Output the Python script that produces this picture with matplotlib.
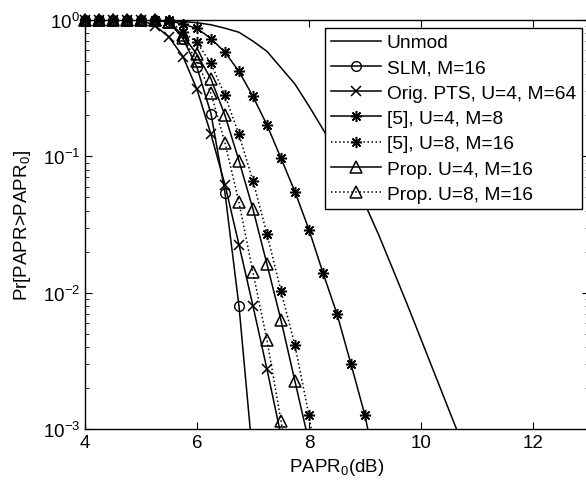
import matplotlib
matplotlib.use("Agg")
import matplotlib.pyplot as plt
from matplotlib.lines import Line2D

plt.rcParams['font.family'] = ['Liberation Sans', 'DejaVu Sans']
plt.rcParams['mathtext.default'] = 'regular'

# PAPR0 grid (dB), markers every 0.25 dB
papr = [4.0, 4.25, 4.5, 4.75, 5.0, 5.25, 5.5, 5.75, 6.0, 6.25, 6.5, 6.75,
        7.0, 7.25, 7.5, 7.75, 8.0, 8.25, 8.5, 8.75, 9.0, 9.25, 9.5, 9.75,
        10.0, 10.25, 10.5, 10.75]

unmod = [1, 1, 1, 1, 1, 0.998, 0.993, 0.975, 0.955, 0.923, 0.871, 0.813,
         0.70, 0.589, 0.447, 0.339, 0.234, 0.158, 0.105, 0.069, 0.0447,
         0.0263, 0.0148, 0.0083, 0.00457, 0.00251, 0.00138, 0.00076]

slm = [1, 1, 1, 1, 1, 1, 0.97, 0.73, 0.45, 0.206, 0.054, 0.008, 0.0006]

pts = [1, 1, 1, 1, 1, 0.91, 0.75, 0.54, 0.31, 0.145, 0.062, 0.0225, 0.008,
       0.00275, 0.0009]

ref5_u4 = [1, 1, 1, 1, 1, 1, 0.995, 0.93, 0.87, 0.73, 0.58, 0.42, 0.275,
           0.17, 0.097, 0.055, 0.029, 0.014, 0.007, 0.003, 0.00126, 0.0004]

ref5_u8 = [1, 1, 1, 1, 1, 1, 0.99, 0.82, 0.685, 0.48, 0.28, 0.145, 0.066,
           0.027, 0.0103, 0.0041, 0.00126, 0.0003]

prop_u4 = [1, 1, 1, 1, 1, 1, 0.97, 0.77, 0.56, 0.37, 0.20, 0.093, 0.041,
           0.0162, 0.0063, 0.00224, 0.0008]

prop_u8 = [1, 1, 1, 1, 1, 1, 0.96, 0.74, 0.50, 0.29, 0.126, 0.046, 0.0141,
           0.0045, 0.00115, 0.0003]

labels = ['Unmod', 'SLM, M=16', 'Orig. PTS, U=4, M=64', '[5], U=4, M=8',
          '[5], U=8, M=16', 'Prop. U=4, M=16', 'Prop. U=8, M=16']

fig = plt.figure(figsize=(5.86, 4.81), dpi=100)
ax = fig.add_axes([0.145, 0.106, 0.86, 0.8503])

ast = (8, 2, 0)
lw = 1.1
ymin = 1e-3

series = [
    (unmod, '-', None, {}),
    (slm, '-', 'o', dict(ms=7, mfc='none', mew=1.0)),
    (pts, '-', 'x', dict(ms=7, mew=1.1)),
    (ref5_u4, '-', ast, dict(ms=8, mew=1.1)),
    (ref5_u8, ':', ast, dict(ms=8, mew=1.1)),
    (prop_u4, '-', '^', dict(ms=8, mfc='none', mew=1.1)),
    (prop_u8, ':', '^', dict(ms=8, mfc='none', mew=1.1)),
]

handles = []
for (vals, ls, mk, mkw), lab in zip(series, labels):
    xs = papr[:len(vals)]
    ax.semilogy(xs, vals, color='k', ls=ls, lw=lw)
    if mk is not None:
        vis = [(x, v) for x, v in zip(xs, vals) if v >= ymin]
        ax.plot([p[0] for p in vis], [p[1] for p in vis], ls='none',
                marker=mk, color='k', clip_on=False, zorder=3, **mkw)
    handles.append(Line2D([], [], color='k', ls=ls, lw=lw, marker=mk, **mkw))

ax.set_xlim(4, 13)
ax.set_ylim(ymin, 1)
ax.set_xticks([4, 6, 8, 10, 12])
ax.tick_params(which='both', direction='in', top=True, right=True,
               labelsize=13.5)
ax.tick_params(which='major', length=5)
ax.tick_params(which='minor', length=3)
for s in ax.spines.values():
    s.set_linewidth(1.0)

ax.set_xlabel('PAPR$_0$(dB)', fontsize=13.5, labelpad=4)
ax.set_ylabel('Pr[PAPR>PAPR$_0$]', fontsize=13.5, labelpad=7)

leg = ax.legend(handles, labels, loc='upper right',
                bbox_to_anchor=(0.9855, 0.98), borderaxespad=0,
                fontsize=13.8, frameon=True, fancybox=False, edgecolor='k',
                framealpha=1, handlelength=2.6, labelspacing=0.41,
                borderpad=0.3, handletextpad=0.3)
leg.get_frame().set_linewidth(1.0)
leg.set_zorder(5)

fig.savefig('out.png', dpi=100)
